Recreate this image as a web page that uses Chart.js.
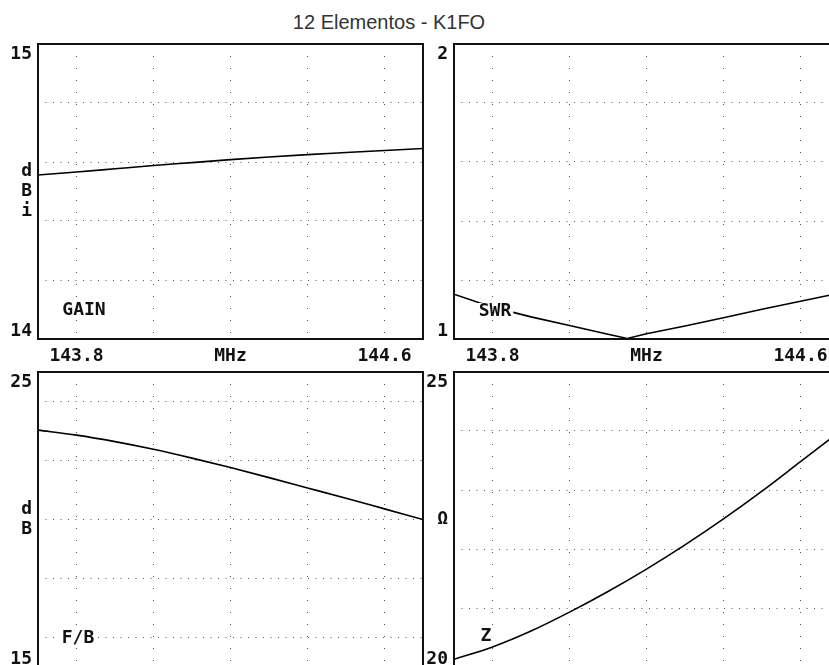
<!DOCTYPE html>
<html>
<head>
<meta charset="utf-8">
<script src="https://cdn.jsdelivr.net/npm/chart.js@4.4.0/dist/chart.umd.min.js"></script>
<style>
html,body{margin:0;padding:0;background:#fff;overflow:hidden}
#wrap{position:relative;width:829px;height:665px;overflow:hidden;background:#fff}
#title{position:absolute;left:0;top:10px;width:778px;text-align:center;font:20px "Liberation Sans",Arial,sans-serif;line-height:24px;color:#333}
canvas{position:absolute}
</style>
</head>
<body>
<div id="wrap">
  <div id="title">12 Elementos - K1FO</div>
  <canvas id="gain" width="426" height="336" style="left:0;top:34px;width:426px;height:336px"></canvas>
  <canvas id="swr" width="415" height="336" style="left:426px;top:34px;width:415px;height:336px"></canvas>
  <canvas id="fb" width="426" height="307" style="left:0;top:362px;width:426px;height:307px"></canvas>
  <canvas id="z" width="415" height="307" style="left:426px;top:362px;width:415px;height:307px"></canvas>
</div>
<script>
// values (MHz)
const freqs = [143.7, 143.8, 143.9, 144.0, 144.1, 144.2, 144.3, 144.4, 144.5, 144.6, 144.7];
const gainDbi = [14.556, 14.566, 14.577, 14.588, 14.598, 14.608, 14.617, 14.625, 14.632, 14.639, 14.646];
const fbDb = [23.03, 22.86, 22.64, 22.38, 22.08, 21.76, 21.42, 21.07, 20.72, 20.36, 20.00];
const zOhm = [20.13, 20.34, 20.61, 20.93, 21.28, 21.66, 22.07, 22.51, 22.98, 23.48, 23.98];
const swrFreqs = [143.7, 143.8, 143.9, 144.0, 144.1, 144.15, 144.2, 144.3, 144.4, 144.5, 144.6, 144.7];
const swr = [1.152, 1.108, 1.075, 1.046, 1.016, 1.002, 1.018, 1.044, 1.072, 1.101, 1.128, 1.155];

const freqTicks = [143.8, 144.0, 144.2, 144.4, 144.6];
const freqLabels = ['143.8', '', 'MHz', '', '144.6'];
const gainTicks = [14.2, 14.4, 14.6, 14.8];
const swrTicks = [1.2, 1.4, 1.6, 1.8];
const fbTicks = [16, 18, 20, 22, 24];
const zTicks = [21, 22, 23, 24];

const FAM = '"DejaVu Sans Mono", "Liberation Mono", monospace';
const FONT = 'bold 18px ' + FAM;

// frame, end values, unit and curve name
const panelDeco = {
  id: 'panelDeco',
  afterDraw(chart, args, o) {
    const {ctx, chartArea: a, scales: {y}} = chart;
    ctx.save();
    ctx.strokeStyle = '#111';
    ctx.lineWidth = 2;
    ctx.strokeRect(a.left, a.top, a.right - a.left, a.bottom - a.top);
    ctx.font = FONT;
    ctx.fillStyle = '#111';
    ctx.textAlign = 'right';
    ctx.textBaseline = 'middle';
    const lx = a.left - 6;
    ctx.fillText(String(y.max), lx, a.top + 10);
    ctx.fillText(String(y.min), lx, a.bottom - 8);
    if (o.unit) {
      const yc = y.getPixelForValue(o.unitAt);
      o.unit.forEach((t, i) => ctx.fillText(t, lx, yc + (i - (o.unit.length - 1) / 2) * 20));
    }
    ctx.textAlign = 'center';
    const w = ctx.measureText(o.tag).width + 4;
    const tx = a.left + o.tagDx, ty = a.bottom - o.tagDy;
    ctx.fillStyle = '#fff';
    ctx.fillRect(tx - w / 2, ty - 8, w, 16);
    ctx.fillStyle = '#111';
    ctx.fillText(o.tag, tx, ty);
    ctx.restore();
  }
};

function makePanel(p) {
  new Chart(document.getElementById(p.id), {
    type: 'line',
    data: {
      datasets: [{
        data: p.xs.map((x, i) => ({x, y: p.ys[i]})),
        borderColor: '#000',
        borderWidth: 1.6,
        pointRadius: 0,
        tension: p.smooth ? 0.4 : 0,
        cubicInterpolationMode: p.smooth ? 'monotone' : 'default',
        fill: false
      }]
    },
    options: {
      responsive: false,
      animation: false,
      layout: {padding: {top: 10, right: p.padRight, bottom: p.padBottom, left: 0}},
      plugins: {
        legend: {display: false},
        tooltip: {enabled: false},
        panelDeco: {unit: p.unit, unitAt: p.unitAt, tag: p.tag, tagDx: p.tagDx, tagDy: p.tagDy}
      },
      scales: {
        x: {
          type: 'linear', min: 143.7, max: 144.7,
          afterBuildTicks: s => { s.ticks = freqTicks.map(v => ({value: v})); },
          afterFit: s => { s.height = p.xHeight; },
          grid: {color: '#555', drawTicks: false},
          border: {display: false, dash: [1, 11]},
          ticks: {
            display: p.showX, padding: 7, maxRotation: 0, autoSkip: false,
            color: '#111', font: {family: FAM, size: 18, weight: 'bold'},
            callback: (v, i) => freqLabels[i]
          }
        },
        y: {
          min: p.min, max: p.max,
          afterBuildTicks: s => { s.ticks = p.ticks.map(v => ({value: v})); },
          afterFit: s => { s.width = p.yWidth; },
          grid: {color: '#555', drawTicks: false},
          border: {display: false, dash: [1, 6.5]},
          ticks: {display: false}
        }
      }
    },
    plugins: [panelDeco]
  });
}

makePanel({id: 'gain', xs: freqs, ys: gainDbi, min: 14, max: 15, ticks: gainTicks, smooth: true,
  unit: ['d', 'B', 'i'], unitAt: 14.5, tag: 'GAIN', tagDx: 46, tagDy: 29,
  yWidth: 38, padRight: 3, padBottom: 0, xHeight: 31, showX: true});
makePanel({id: 'swr', xs: swrFreqs, ys: swr, min: 1, max: 2, ticks: swrTicks, smooth: false,
  unit: null, tag: 'SWR', tagDx: 41, tagDy: 28,
  yWidth: 28, padRight: 2, padBottom: 0, xHeight: 31, showX: true});
makePanel({id: 'fb', xs: freqs, ys: fbDb, min: 15, max: 25, ticks: fbTicks, smooth: true,
  unit: ['d', 'B'], unitAt: 20, tag: 'F/B', tagDx: 40, tagDy: 29,
  yWidth: 38, padRight: 3, padBottom: 2, xHeight: 0, showX: false});
makePanel({id: 'z', xs: freqs, ys: zOhm, min: 20, max: 25, ticks: zTicks, smooth: true,
  unit: ['Ω'], unitAt: 22.5, tag: 'Z', tagDx: 32, tagDy: 31,
  yWidth: 28, padRight: 2, padBottom: 2, xHeight: 0, showX: false});
</script>
</body>
</html>
